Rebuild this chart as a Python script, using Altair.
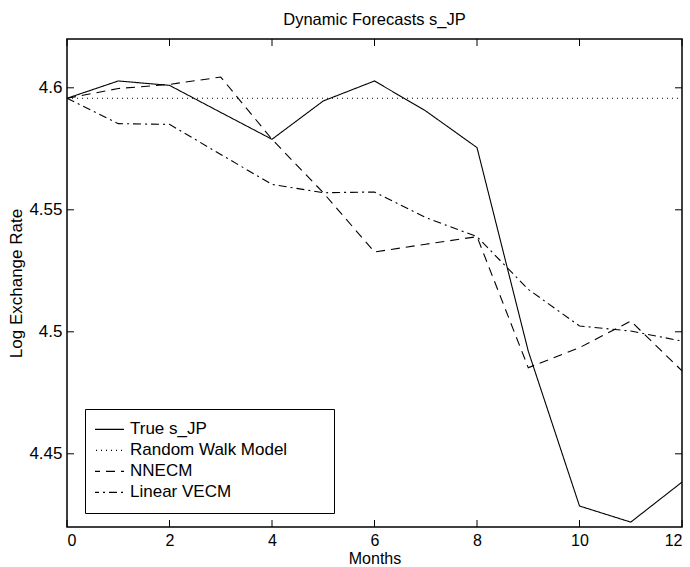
import altair as alt
import pandas as pd

months = [0, 1, 2, 3, 4, 5, 6, 7, 8, 9, 10, 11, 12]
true_sjp = [4.5957, 4.6028, 4.6010, 4.5899, 4.5789, 4.5946, 4.6028, 4.5905, 4.5755, 4.4921, 4.4286, 4.4220, 4.4384]
random_walk = [4.5957, 4.5957, 4.5957, 4.5957, 4.5957, 4.5957, 4.5957, 4.5957, 4.5957, 4.5957, 4.5957, 4.5957, 4.5957]
nnecm = [4.5957, 4.5997, 4.6014, 4.6044, 4.5789, 4.5570, 4.5327, 4.5359, 4.5390, 4.4853, 4.4935, 4.5044, 4.4840]
linear_vecm = [4.5957, 4.5853, 4.5850, 4.5727, 4.5604, 4.5570, 4.5573, 4.5468, 4.5390, 4.5174, 4.5024, 4.5003, 4.4962]

series_names = ["True s_JP", "Random Walk Model", "NNECM", "Linear VECM"]
series_values = [true_sjp, random_walk, nnecm, linear_vecm]
dash_styles = [[1, 0], [1, 4], [9, 6], [8, 4, 2, 4]]

x_ticks = [0, 2, 4, 6, 8, 10, 12]
y_ticks = [4.45, 4.5, 4.55, 4.6]

rows = []
for name, vals in zip(series_names, series_values):
    for m, v in zip(months, vals):
        rows.append({"month": m, "value": v, "series": name})
df = pd.DataFrame(rows)

FONT = "Liberation Sans"
W, H = 615, 488
TICK = 7

xscale = alt.Scale(domain=[0, 12], nice=False, zero=False)
yscale = alt.Scale(domain=[4.42, 4.62], nice=False, zero=False)
xaxis = alt.Axis(values=x_ticks, format="d", title="Months", labelPadding=5,
                 titlePadding=2, labelFontSize=16, titleFontSize=16)
yaxis = alt.Axis(values=y_ticks, format="~g", title="Log Exchange Rate", labelPadding=5, titlePadding=3)

lines = alt.Chart(df).mark_line(color="black", strokeWidth=1.1).encode(
    x=alt.X("month:Q", scale=xscale, axis=xaxis),
    y=alt.Y("value:Q", scale=yscale, axis=yaxis),
    strokeDash=alt.StrokeDash(
        "series:N",
        scale=alt.Scale(domain=series_names, range=dash_styles),
        legend=alt.Legend(
            orient="none", legendX=18, legendY=370,
            title="\u200b", titleOrient="right", titlePadding=37, titleFontSize=1,
            strokeColor="black", fillColor="white", padding=10,
            symbolType="stroke", symbolSize=1089, symbolStrokeWidth=1.1,
            symbolStrokeColor="black", symbolOffset=-5,
            labelFont=FONT, labelFontSize=17, labelColor="black",
            labelOffset=5, clipHeight=20.7, rowPadding=0, labelLimit=400,
        ),
    ),
    order="month:Q",
)

xt = pd.DataFrame({"t": x_ticks})
yt = pd.DataFrame({"t": y_ticks})

bottom_ticks = alt.Chart(xt).mark_rule(color="black", strokeWidth=1).encode(
    x=alt.X("t:Q", scale=xscale, axis=xaxis), y=alt.value(H), y2=alt.value(H - TICK))
top_ticks = alt.Chart(xt).mark_rule(color="black", strokeWidth=1).encode(
    x=alt.X("t:Q", scale=xscale, axis=xaxis), y=alt.value(0), y2=alt.value(TICK))
left_ticks = alt.Chart(yt).mark_rule(color="black", strokeWidth=1).encode(
    y=alt.Y("t:Q", scale=yscale, axis=yaxis), x=alt.value(0), x2=alt.value(TICK))
right_ticks = alt.Chart(yt).mark_rule(color="black", strokeWidth=1).encode(
    y=alt.Y("t:Q", scale=yscale, axis=yaxis), x=alt.value(W), x2=alt.value(W - TICK))

chart = alt.layer(lines, bottom_ticks, top_ticks, left_ticks, right_ticks).properties(
    width=W, height=H,
    title=alt.TitleParams("Dynamic Forecasts s_JP", font=FONT, fontSize=16.5,
                          fontWeight="normal", color="black", anchor="middle",
                          frame="group", offset=10),
    autosize=alt.AutoSizeParams(type="none"),
    padding={"left": 67, "top": 39, "right": 8, "bottom": 40},
    background="white",
).configure_view(
    stroke="black", strokeWidth=1.5
).configure_axis(
    domain=False, grid=False, ticks=False, tickSize=0,
    labelFont=FONT, labelFontSize=17, labelColor="black",
    titleFont=FONT, titleFontSize=17, titleFontWeight="normal", titleColor="black",
)

chart.save("out.html", embed_options={"renderer": "svg", "actions": False})
